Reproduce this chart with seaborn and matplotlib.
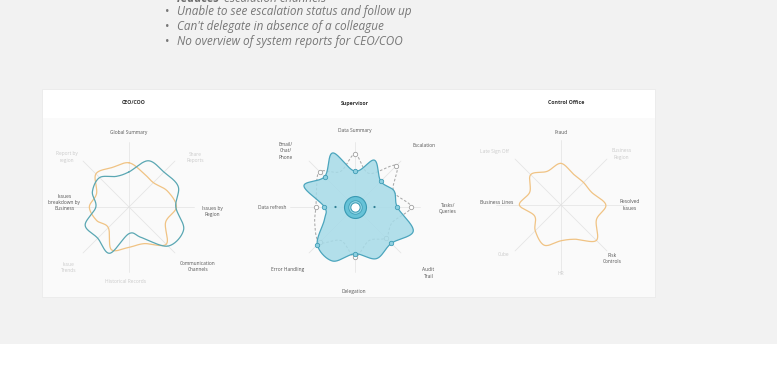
import numpy as np
import matplotlib
matplotlib.use("Agg")
import matplotlib.pyplot as plt
from matplotlib.patches import Rectangle
import seaborn as sns

# ---------------- data ----------------
bullet_lines = ["Unable to see escalation status and follow up",
                "Can't delegate in absence of a colleague",
                "No overview of system reports for CEO/COO"]
cut_line_bold = "reduces"
cut_line_rest = "escalation channels"

chart_titles = ["CEO/COO", "Supervisor", "Control Office"]

ceo_axes = ["Global Summary", "Share\nReports", "Issues by\nRegion",
            "Communication\nChannels", "Historical Records", "Issue\nTrends",
            "Issues\nbreakdown by\nBusiness", "Report by\nregion"]
ceo_axes_active = [True, False, True, True, False, False, True, False]

sup_axes = ["Data Summary", "Escalation", "Tasks/\nQueries", "Audit\nTrail",
            "Delegation", "Error Handling", "Data refresh", "Email/\nChat/\nPhone"]
sup_axes_active = [True] * 8

ctl_axes = ["Fraud", "Business\nRegion", "Resolved\nIssues", "Risk\nControls",
            "HR", "Cube", "Business Lines", "Late Sign Off"]
ctl_axes_active = [True, False, True, True, False, False, True, False]

# radii at 16 directions (8 axes + midpoints), clockwise from top
ceo_teal = [0.54, 0.77, 0.76, 0.82, 0.72, 0.91, 0.85, 0.51,
            0.41, 0.77, 0.68, 0.73, 0.51, 0.61, 0.64, 0.51]
ceo_orange = [0.68, 0.57, 0.53, 0.64, 0.73, 0.61, 0.81, 0.61,
              0.62, 0.71, 0.45, 0.54, 0.61, 0.54, 0.72, 0.66]
sup_current = [0.55, 0.78, 0.56, 0.65, 0.65, 0.97, 0.79, 0.86,
               0.72, 0.90, 0.82, 0.51, 0.47, 0.85, 0.66, 0.90]
sup_target = [0.81, 0.56, 0.90, 0.64, 0.86, 0.62, 0.67, 0.56,
              0.77, 0.56, 0.77, 0.67, 0.60, 0.64, 0.77, 0.59]
ctl_orange = [0.64, 0.51, 0.49, 0.51, 0.69, 0.59, 0.77, 0.57,
              0.55, 0.67, 0.56, 0.44, 0.64, 0.52, 0.66, 0.56]

# ---------------- layout / style ----------------
W, H = 780, 381
TEAL = "#5aa7b3"
ORANGE = "#f0c384"
DARK = "#555555"
LIGHT = "#cacaca"

sns.set_theme(style="white")
plt.rcParams["font.family"] = ["Open Sans", "DejaVu Sans"]

fig = plt.figure(figsize=(W / 100, H / 100), dpi=100)
fig.patch.set_facecolor("white")


def px_rect(x0, y0, x1, y1, **kw):
    fig.patches.append(Rectangle((x0 / W, 1 - y1 / H), (x1 - x0) / W, (y1 - y0) / H,
                                 transform=fig.transFigure, zorder=-5, **kw))


px_rect(0, 0, 777, 344, facecolor="#f2f2f2", edgecolor="none")
px_rect(42, 89, 656, 298, facecolor="#ececec", edgecolor="none")
px_rect(43, 90, 655, 297, facecolor="white", edgecolor="none")
px_rect(43, 118, 655, 297, facecolor="#fafafa", edgecolor="none")

# top bullet text (first line is cut by the top edge)
FS = 8.5
fig.text(177 / W, 1 - 1.5 / H, cut_line_bold, fontsize=FS, style="italic",
         weight="bold", color="#6d6d6d", va="baseline", ha="left")
fig.text(224 / W, 1 - 1.5 / H, cut_line_rest, fontsize=FS, style="italic",
         color="#777777", va="baseline", ha="left")
for i, line in enumerate(bullet_lines):
    y = 12 + i * 14.5
    fig.text(165 / W, 1 - y / H, "\u2022", fontsize=FS, color="#777777",
             va="center", ha="left")
    fig.text(177 / W, 1 - y / H, line, fontsize=FS, style="italic",
             color="#777777", va="center", ha="left")

# titles
for title, x in zip(chart_titles, [134, 355, 566]):
    fig.text(x / W, 1 - 103 / H, title, fontsize=3.8, weight="bold",
             color="#333333", ha="center", va="center")

SPOKE = 65.0
L = 1.6


def make_ax(cx, cy):
    s = 2 * L * SPOKE
    ax = fig.add_axes([(cx - s / 2) / W, (H - cy - s / 2) / H, s / W, s / H])
    ax.set_xlim(-L, L)
    ax.set_ylim(-L, L)
    ax.set_aspect("equal")
    ax.axis("off")
    return ax


def xy(angles_deg, r):
    a = np.deg2rad(np.asarray(angles_deg))
    r = np.asarray(r)
    return r * np.sin(a), r * np.cos(a)


def smooth(vals, n=40):
    ang = np.arange(len(vals)) * 360.0 / len(vals)
    x, y = xy(ang, vals)
    P = np.stack([x, y], axis=1)
    m = len(P)
    t = np.linspace(0, 1, n, endpoint=False)[:, None]
    out = []
    for i in range(m):
        p0, p1, p2, p3 = P[(i - 1) % m], P[i], P[(i + 1) % m], P[(i + 2) % m]
        q = 0.5 * (2 * p1 + (-p0 + p2) * t + (2 * p0 - 5 * p1 + 4 * p2 - p3) * t ** 2
                   + (-p0 + 3 * p1 - 3 * p2 + p3) * t ** 3)
        out.append(q)
    out = np.vstack(out + [out[0][:1]])
    return out[:, 0], out[:, 1]


def spokes(ax):
    for a in range(0, 360, 45):
        x, y = xy([a, a], [0, 1.0])
        ax.plot(x, y, color="#e2e2e2", lw=0.5, zorder=1)


def labels(ax, names, active, pos):
    for name, act, (a, r) in zip(names, active, pos):
        x, y = xy([a], [r])
        ax.text(x[0], y[0], name, fontsize=3.5, color=DARK if act else LIGHT,
                ha="center", va="center", linespacing=1.35, clip_on=False)


def curve(ax, vals, color, lw=0.9, ls="-", z=3):
    x, y = smooth(vals)
    sns.lineplot(x=x, y=y, sort=False, estimator=None, ax=ax, color=color,
                 lw=lw, linestyle=ls, zorder=z)
    return x, y


# ---- CEO/COO ----
ax1 = make_ax(129, 207)
spokes(ax1)
labels(ax1, ceo_axes, ceo_axes_active,
       [(0, 1.14), (53, 1.27), (93, 1.28), (131, 1.40),
        (183, 1.15), (225, 1.31), (274, 1.0), (309, 1.22)])
curve(ax1, ceo_orange, ORANGE)
curve(ax1, ceo_teal, TEAL)

# ---- Supervisor ----
ax2 = make_ax(355, 207)
spokes(ax2)
labels(ax2, sup_axes, sup_axes_active,
       [(0, 1.18), (48, 1.42), (91, 1.43), (132, 1.52),
        (181, 1.30), (227, 1.41), (270, 1.28), (309, 1.37)])
curve(ax2, sup_target, "#a9a9a9", lw=0.75, ls=(0, (2.5, 1.8)), z=2)
tx, ty = xy(np.arange(0, 360, 45), sup_target[::2])
sns.scatterplot(x=tx, y=ty, ax=ax2, s=10, color="white", edgecolor="#a0a0a0",
                linewidth=0.6, zorder=2.5, legend=False)
fx, fy = smooth(sup_current)
ax2.fill(fx, fy, color="#a6dbe8", alpha=0.85, lw=0, zorder=3)
sns.lineplot(x=fx, y=fy, sort=False, estimator=None, ax=ax2, color="#4ba5bd",
             lw=0.9, zorder=4)
cx_, cy_ = xy(np.arange(0, 360, 45), sup_current[::2])
sns.scatterplot(x=cx_, y=cy_, ax=ax2, s=10, color="#8fd0e0", edgecolor="#3f9db6",
                linewidth=0.6, zorder=5, legend=False)
dx_, dy_ = xy([90, 270], [0.30, 0.30])
sns.scatterplot(x=dx_, y=dy_, ax=ax2, s=2.5, color="#2f7f94", edgecolor="none",
                zorder=5, legend=False)
ax2.scatter([0], [0], s=250, color="#66c2d7", edgecolors="#3a9ab3",
            linewidths=0.8, zorder=6)
ax2.scatter([0], [0], s=95, color="#8fd3e3", edgecolors="#3a9ab3",
            linewidths=0.5, zorder=6)
ax2.scatter([0], [0], s=45, color="white", edgecolors="#3a9ab3",
            linewidths=0.7, zorder=7)

# ---- Control Office ----
ax3 = make_ax(561, 205)
spokes(ax3)
labels(ax3, ctl_axes, ctl_axes_active,
       [(0, 1.11), (50, 1.22), (90, 1.05), (136, 1.14),
        (180, 1.05), (229, 1.17), (272, 0.99), (309, 1.31)])
curve(ax3, ctl_orange, ORANGE)

fig.savefig("out.png", dpi=100, facecolor=fig.get_facecolor())
